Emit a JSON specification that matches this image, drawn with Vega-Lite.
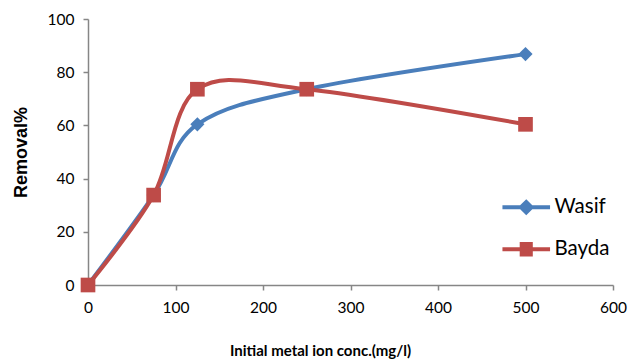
{
  "$schema": "https://vega.github.io/schema/vega-lite/v6.json",
  "width": 525,
  "height": 266,
  "autosize": "none",
  "padding": {"left": 88, "top": 19, "right": 17, "bottom": 74},
  "background": "white",
  "config": {"view": {"stroke": null}, "font": "Lato"},
  "data": {
    "values": [
      {"sorbent": "Wasif", "conc": 0, "removal": 0},
      {"sorbent": "Wasif", "conc": 75, "removal": 33.8},
      {"sorbent": "Wasif", "conc": 125, "removal": 60.4},
      {"sorbent": "Wasif", "conc": 250, "removal": 73.6},
      {"sorbent": "Wasif", "conc": 500, "removal": 86.8},
      {"sorbent": "Bayda", "conc": 0, "removal": 0},
      {"sorbent": "Bayda", "conc": 75, "removal": 33.8},
      {"sorbent": "Bayda", "conc": 125, "removal": 73.6},
      {"sorbent": "Bayda", "conc": 250, "removal": 73.6},
      {"sorbent": "Bayda", "conc": 500, "removal": 60.4}
    ]
  },
  "encoding": {
    "x": {
      "field": "conc",
      "type": "quantitative",
      "scale": {"domain": [0, 600], "nice": false},
      "axis": {
        "values": [0, 100, 200, 300, 400, 500, 600],
        "grid": false,
        "title": "Initial metal ion conc.(mg/l)",
        "titleFontSize": 15,
        "titleFontWeight": "bold",
        "titleColor": "#000000",
        "titleAlign": "center",
        "titleBaseline": "middle",
        "titleX": 232,
        "titleY": 65,
        "labelFontSize": 15.5,
        "labelColor": "#000000",
        "labelPadding": 10,
        "labelFlush": false,
        "domainColor": "#868686",
        "domainWidth": 1.5,
        "tickColor": "#868686",
        "tickWidth": 1.5,
        "tickSize": 5
      }
    },
    "y": {
      "field": "removal",
      "type": "quantitative",
      "scale": {"domain": [0, 100], "nice": false},
      "axis": {
        "values": [0, 20, 40, 60, 80, 100],
        "grid": false,
        "title": "Removal%",
        "titleFont": "Liberation Sans",
        "titleFontSize": 18,
        "titleFontWeight": "bold",
        "titleColor": "#000000",
        "titlePadding": 17,
        "labelFontSize": 15.5,
        "labelColor": "#000000",
        "labelPadding": 9,
        "labelFlush": false,
        "domainColor": "#868686",
        "domainWidth": 1.5,
        "tickColor": "#868686",
        "tickWidth": 1.5,
        "tickSize": 5
      }
    },
    "color": {
      "field": "sorbent",
      "type": "nominal",
      "scale": {"domain": ["Wasif", "Bayda"], "range": ["#4a7ebb", "#be4b48"]},
      "legend": {
        "title": null,
        "orient": "none",
        "legendX": 428,
        "legendY": 178,
        "padding": 0,
        "labelFontSize": 20.5,
        "labelColor": "#000000",
        "labelOffset": 18,
        "rowPadding": 15,
        "symbolSize": 196,
        "symbolOpacity": 1,
        "symbolStrokeWidth": 4,
        "symbolType": {"expr": "datum.value === 'Wasif' ? 'M-3.4,0H3.4M-0.75,0L0,-0.75L0.75,0L0,0.75Z' : 'M-3.4,0H3.4M-0.65,-0.75H0.65V0.75H-0.65Z'"},
        "symbolFillColor": {"expr": "datum.value === 'Wasif' ? '#4a7ebb' : '#be4b48'"},
        "symbolStrokeColor": {"expr": "datum.value === 'Wasif' ? '#4a7ebb' : '#be4b48'"}
      }
    }
  },
  "layer": [
    {
      "mark": {"type": "line", "interpolate": "cardinal", "strokeWidth": 4},
      "encoding": {}
    },
    {
      "mark": {
        "type": "point",
        "filled": true,
        "opacity": 1,
        "strokeWidth": 0,
        "shape": {"expr": "datum.sorbent === 'Wasif' ? 'diamond' : 'square'"},
        "size": {"expr": "datum.sorbent === 'Wasif' ? 200 : 215"}
      },
      "encoding": {}
    }
  ]
}
